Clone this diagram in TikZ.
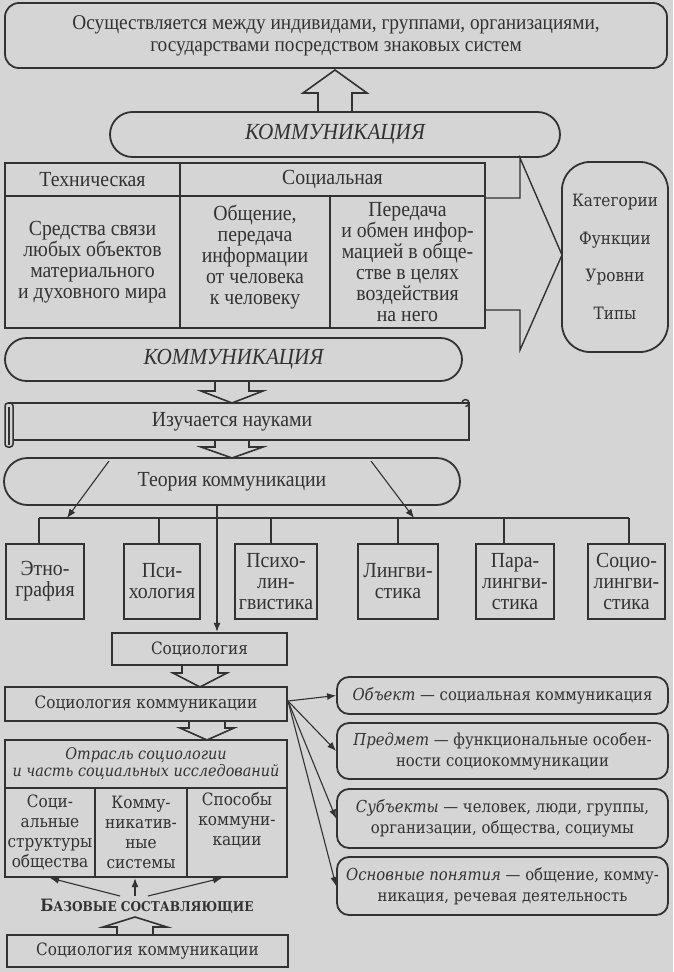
\documentclass[tikz,border=0pt]{standalone}
\usepackage{fontspec}
\setmainfont{Liberation Serif}[FakeStretch=0.92]
\newfontfamily\sbfont{DejaVu Serif}[FakeStretch=0.9]
\usetikzlibrary{arrows.meta}
\definecolor{paper}{RGB}{213,213,213}
\definecolor{ink}{RGB}{50,50,50}
\tikzset{
  every node/.style={text=ink, inner sep=0pt, align=center},
  box/.style={draw=ink, line width=2.4pt},
  rbox/.style={draw=ink, line width=1.8pt, rounded corners=12pt},
  pill/.style={draw=ink, line width=1.8pt, rounded corners=#1},
  conn/.style={draw=ink, line width=1.1pt, -{Latex[length=9pt,width=7pt]}},
  plain/.style={draw=ink, line width=1.1pt},
  blk/.style={draw=ink, line width=1.6pt, line join=miter},
  tt/.style={font=\fontsize{21.5}{21}\selectfont},
  st/.style={font=\sbfont\fontsize{17}{20}\selectfont},
  kom/.style={font=\itshape\fontsize{23}{23}\selectfont},
}
\begin{document}
\begin{tikzpicture}[x=1pt,y=-1pt]
\fill[paper] (0,0) rectangle (673,972);
\useasboundingbox (0,0) rectangle (673,972);

% top
\node[rbox, rounded corners=14pt, minimum width=662pt, minimum height=65pt, font=\fontsize{21}{22}\selectfont] (goal) at (336,35.5)
  {Осуществляется между индивидами, группами, организациями,\\государствами посредством знаковых систем};
\draw[blk] (318,112) -- (318,93) -- (303,93) -- (335,70) -- (367,93) -- (352,93) -- (352,112);

\node[pill=22.5pt, minimum width=450pt, minimum height=45pt, kom] (kom1) at (335,134.5) {КОММУНИКАЦИЯ};

% table 1
\node[box, minimum width=175pt, minimum height=33pt, tt] (th1) at (92.5,179.5) {Техническая};
\node[box, minimum width=305pt, minimum height=33pt, tt] (th2) at (332.5,179.5) {Социальная};
\node[box, minimum width=175pt, minimum height=132pt, tt] (tc1) at (92.5,262) {Средства связи\\любых объектов\\материального\\и духовного мира};
\node[box, minimum width=150pt, minimum height=132pt, tt] (tc2) at (255,262) {Общение,\\передача\\информации\\от человека\\к человеку\\[-7pt]};
\node[box, minimum width=155pt, minimum height=132pt, tt] (tc3) at (407.5,262) {Передача\\и обмен инфор-\\мацией в обще-\\стве в целях\\воздействия\\на него};

\draw[blk, line width=1.4pt] (485,198) -- (520,198) -- (520,158) -- (562,255) -- (520,350) -- (520,310) -- (485,310);

\node[draw=ink, line width=1.8pt, rounded corners=28pt, minimum width=106pt, minimum height=190pt,
      font=\sbfont\fontsize{17}{37.5}\selectfont] (cat) at (615,257) {Категории\\Функции\\Уровни\\Типы};

% second stadium
\node[pill=21.5pt, minimum width=457pt, minimum height=43pt, kom] (kom2) at (233.5,359.5) {КОММУНИКАЦИЯ};
\draw[blk] (215,381) -- (215,391) -- (201,391) -- (232,403) -- (263,391) -- (249,391) -- (249,381);

% scroll
\node[draw=ink, line width=1.8pt, minimum width=460pt, minimum height=37pt] (scroll) at (239,421.5) {};
\node[tt] (scrolltext) at (232,422) {Изучается науками};
\draw[draw=ink, line width=1.5pt, fill=paper, rounded corners=3pt] (5,403) rectangle (13,447);
\draw[draw=ink, line width=1.2pt] (9,407) -- (9,445);
\draw[draw=ink, line width=1.5pt] (462,403) arc[start angle=180, end angle=-90, radius=3.5pt];

\draw[blk] (215,440) -- (215,447) -- (201,447) -- (232,458) -- (263,447) -- (249,447) -- (249,440);

% theory
\node[pill=23.5pt, minimum width=456pt, minimum height=47pt, tt] (theo) at (232,481.5) {Теория коммуникации};

% sciences
\node[box, minimum width=78pt, minimum height=75pt, tt] (etno) at (45,581.5) {Этно-\\графия};
\node[box, minimum width=76pt, minimum height=75pt, tt] (psy)  at (162,581.5) {Пси-\\хология};
\node[box, minimum width=82pt, minimum height=75pt, tt] (psyl) at (276,581.5) {Психо-\\лин-\\гвистика};
\node[box, minimum width=80pt, minimum height=75pt, tt] (ling) at (398,581.5) {Лингви-\\стика};
\node[box, minimum width=78pt, minimum height=75pt, tt] (para) at (515,581.5) {Пара-\\лингви-\\стика};
\node[box, minimum width=77pt, minimum height=75pt, tt] (socl) at (626.5,581.5) {Социо-\\лингви-\\стика};

\coordinate (b1) at (39,518);
\coordinate (b2) at (159,518);
\coordinate (b3) at (271,518);
\coordinate (b4) at (398,518);
\coordinate (b5) at (504,518);
\coordinate (b6) at (629,518);
\draw[plain] (b1) -- (b6);
\draw[plain] (b1) -- (b1 |- etno.north);
\draw[plain] (b2) -- (b2 |- psy.north);
\draw[plain] (b3) -- (b3 |- psyl.north);
\draw[plain] (b4) -- (b4 |- ling.north);
\draw[plain] (b5) -- (b5 |- para.north);
\draw[plain] (b6) -- (b6 |- socl.north);

\coordinate (tl) at (109,461);
\coordinate (tlb) at (67,518);
\coordinate (tr) at (371,461);
\coordinate (trb) at (414,518);
\draw[conn] (tl) -- (tlb);
\draw[conn] (tr) -- (trb);

% sociology
\node[box, minimum width=175pt, minimum height=32pt, st] (soc) at (199.5,649) {Социология};
\coordinate (tc) at (217,505);
\draw[conn] (tc) -- (tc |- soc.north);

\draw[blk] (182,665) -- (182,673) -- (173,673) -- (200,687) -- (227,673) -- (218,673) -- (218,665);

\node[box, minimum width=282pt, minimum height=34pt, st] (socc) at (146,704) {Социология коммуникации};

\draw[blk] (189,721) -- (189,728) -- (180,728) -- (207,740) -- (234,728) -- (225,728) -- (225,721);

% table 2
\node[box, minimum width=282pt, minimum height=48pt, font=\sbfont\itshape\fontsize{16}{17}\selectfont] (otr) at (146,764) {Отрасль социологии\\и часть социальных исследований};
\node[box, minimum width=90pt, minimum height=89pt, st] (c1) at (50,832.5) {Соци-\\альные\\структуры\\общества};
\node[box, minimum width=92pt, minimum height=89pt, st] (c2) at (141,832.5) {Комму-\\никатив-\\ные\\системы};
\node[box, minimum width=100pt, minimum height=89pt, st] (c3) at (237,832.5) {Способы\\коммуни-\\кации\\[8pt]};

\node[font=\sbfont\bfseries\fontsize{17}{17}\selectfont] (baz) at (147,906)
  {Б{\fontsize{13.5}{13}\selectfont АЗОВЫЕ СОСТАВЛЯЮЩИЕ}};
\coordinate (bz1) at (120,896);
\coordinate (bz2) at (135,896);
\coordinate (bz3) at (148,896);
\coordinate (bt1) at (50,878);
\coordinate (bt3) at (222,878);
\draw[conn] (bz1) -- (bt1);
\draw[conn] (bz2) -- (bz2 |- c2.south);
\draw[conn] (bz3) -- (bt3);

\draw[blk] (117,935) -- (117,927) -- (103,927) -- (135,917) -- (167,927) -- (153,927) -- (153,935);

\node[box, minimum width=281pt, minimum height=32pt, st] (soc2) at (147.5,951) {Социология коммуникации};

% right boxes
\tikzset{rt/.style={rbox, minimum width=331pt, font=\sbfont\fontsize{16.5}{21}\selectfont}}
\node[rt, minimum height=37pt] (obj)  at (502.5,695.5) {\textit{Объект} — социальная коммуникация};
\node[rt, minimum height=56pt] (pred) at (502.5,751) {\textit{Предмет} — функциональные особен-\\ности социокоммуникации};
\node[rt, minimum height=59pt] (subj) at (502.5,818.5) {\textit{Субъекты} — человек, люди, группы,\\организации, общества, социумы};
\node[rt, minimum height=58pt] (osn)  at (502.5,886) {\textit{Основные понятия} — общение, комму-\\никация, речевая деятельность};

\coordinate (sc) at (288,701);
\draw[conn] (sc) -- (obj.west);
\draw[conn] (sc) -- (pred.west);
\draw[conn] (sc) -- (subj.west);
\draw[conn] (sc) -- (osn.west);
\end{tikzpicture}
\end{document}
